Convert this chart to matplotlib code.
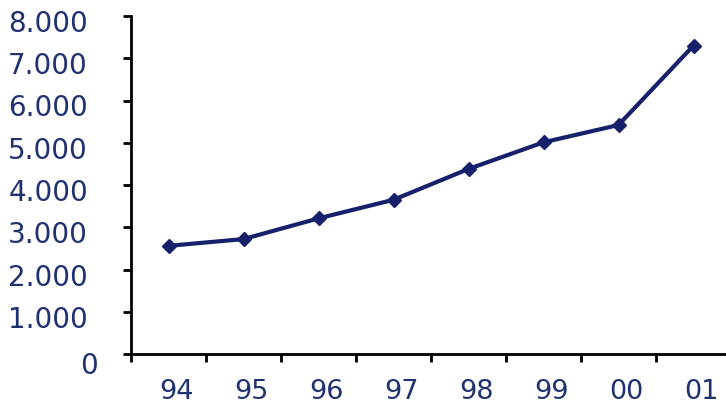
import matplotlib
matplotlib.use("Agg")
import matplotlib.pyplot as plt
import matplotlib.transforms as mtransforms
import numpy as np

years = ["94", "95", "96", "97", "98", "99", "00", "01"]
values = [2560, 2720, 3210, 3650, 4380, 5010, 5420, 7300]
yticks = [0, 1000, 2000, 3000, 4000, 5000, 6000, 7000, 8000]
ylabels = ["0", "1.000", "2.000", "3.000", "4.000", "5.000", "6.000", "7.000", "8.000"]

navy = "#16206b"
text_col = "#1f3170"

fig = plt.figure(figsize=(7.26, 4.10), dpi=100)
ax = fig.add_axes([131 / 726, 55 / 410, 600 / 726, 338 / 410])

x = np.arange(len(years))
ax.plot(x, values, color=navy, lw=3, marker="D", ms=7, mec=navy, mfc=navy)

ax.set_xlim(-0.5, len(years) - 0.5)
ax.set_ylim(0, 8000)
for s in ["top", "right"]:
    ax.spines[s].set_visible(False)
for s in ["left", "bottom"]:
    ax.spines[s].set_linewidth(2)
    ax.spines[s].set_color("black")

ax.set_yticks(yticks)
ax.set_yticklabels(ylabels)
ax.tick_params(axis="y", direction="out", length=6, width=2, pad=25,
               labelsize=20, labelcolor=text_col)

# labels at the categories, ticks between them
ax.set_xticks(x)
ax.set_xticklabels(years)
ax.set_xticks(np.arange(-0.5, len(years), 1.0), minor=True)
ax.tick_params(axis="x", which="major", length=0, pad=15,
               labelsize=19.5, labelcolor=text_col)
ax.tick_params(axis="x", which="minor", direction="out", length=6, width=2)

shift = mtransforms.ScaledTranslation(8 / 100, -3 / 100, fig.dpi_scale_trans)
for lab in ax.get_xticklabels():
    lab.set_transform(lab.get_transform() + shift)
yshift = mtransforms.ScaledTranslation(0, -4 / 100, fig.dpi_scale_trans)
zshift = mtransforms.ScaledTranslation(10 / 100, -8 / 100, fig.dpi_scale_trans)
for i, lab in enumerate(ax.get_yticklabels()):
    lab.set_transform(lab.get_transform() + (zshift if i == 0 else yshift))

fig.savefig("out.png", dpi=100)
